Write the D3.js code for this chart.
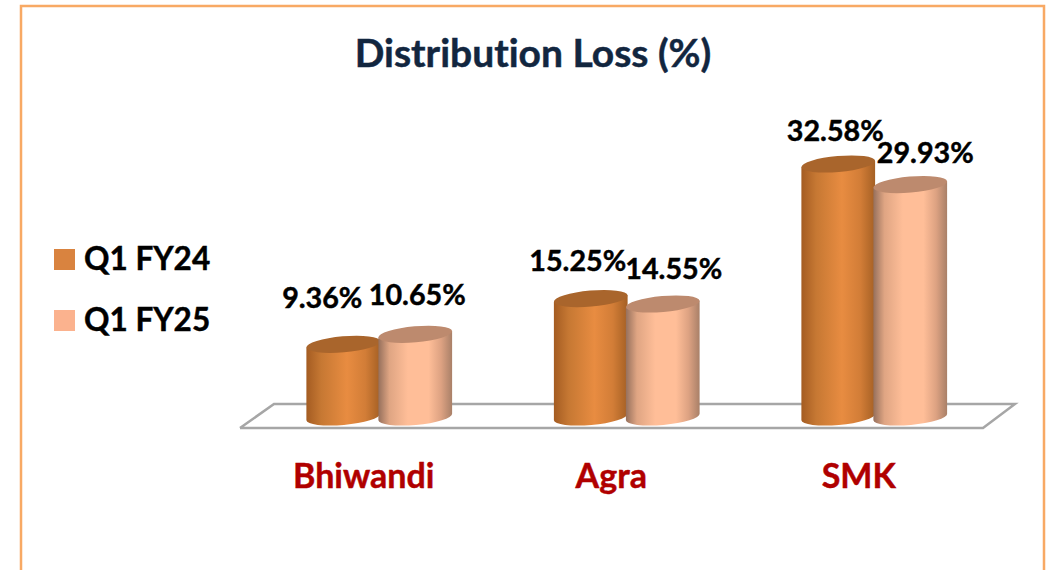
<!DOCTYPE html>
<html><head><meta charset="utf-8">
<script src="https://cdn.jsdelivr.net/npm/d3@7"></script>
<style>html,body{margin:0;padding:0;background:#fff;overflow:hidden}svg{display:block}text{font-family:Lato,"Open Sans",sans-serif;font-weight:700;font-variant-ligatures:none;stroke-width:.45px;paint-order:stroke}</style>
</head><body><div id="c"></div>
<script>
const categories = ["Bhiwandi", "Agra", "SMK"];
const seriesNames = ["Q1 FY24", "Q1 FY25"];
const q1FY24 = [9.36, 15.25, 32.58];
const q1FY25 = [10.65, 14.55, 29.93];
const title = "Distribution Loss (%)";

const W = 1048, H = 570;
const svg = d3.select("#c").append("svg").attr("width", W).attr("height", H);
const defs = svg.append("defs");
function grad(id, stops){
  const g = defs.append("linearGradient").attr("id", id);
  stops.forEach(s => g.append("stop").attr("offset", s[0]).attr("stop-color", s[1]));
}
grad("g0", [[0,"#a45c22"],[0.2,"#c67833"],[0.55,"#e88c41"],[0.8,"#d27d37"],[1,"#a56024"]]);
grad("g1", [[0,"#96705c"],[0.15,"#dfa583"],[0.4,"#ffbe98"],[0.68,"#ffbe98"],[0.85,"#dda282"],[1,"#a98068"]]);
const capColor = ["#a9652c", "#bd8a6e"];
const legendColor = ["#d9833f", "#fbb28e"];

// frame
svg.append("path").attr("d", d3.line()([[21,600],[21,6],[1044,6],[1044,600]]))
  .attr("fill","none").attr("stroke","#f8a964").attr("stroke-width",2.5);

svg.append("text").attr("x",533).attr("y",67).attr("text-anchor","middle")
  .attr("font-size",39).attr("fill","#12263f").attr("stroke","#12263f").text(title);

// scales
const x = d3.scaleBand().domain(categories).range([240, 982.5]);
const y = d3.scaleLinear().domain([0, 32.58]).range([417, 164]);
const barW = 74, capRy = 8, tilt = 5;
const barOffset = [-36, 36];
const centerShift = 15.5;

// floor
svg.append("path").attr("d", d3.line()([[240,428],[274,404],[1015,404],[983,428],[240,428]]))
  .attr("fill","#fff").attr("stroke","#a6a6a6").attr("stroke-width",2.5);

// legend
seriesNames.forEach((n,i)=>{
  const ly = 249 + i*61;
  svg.append("rect").attr("x",54).attr("y",ly).attr("width",21).attr("height",21).attr("fill",legendColor[i]);
  svg.append("text").attr("x",84).attr("y",ly+20.5).attr("font-size",31.5).attr("fill","#000").attr("stroke","#000").text(n);
});

// cylinders
const rad = tilt*Math.PI/180;
function cylinder(g, cx, v, i){
  const rx = barW/2, dx = rx*Math.cos(rad), dy = rx*Math.sin(rad);
  const yt = y(v), yb = y(0);
  const side = `M${cx-dx},${yt+dy} L${cx-dx},${yb+dy} A${rx},${capRy} ${-tilt} 0 0 ${cx+dx},${yb-dy} L${cx+dx},${yt-dy} Z`;
  g.append("path").attr("d", side).attr("fill", `url(#g${i})`);
  g.append("ellipse").attr("cx",cx).attr("cy",yt).attr("rx",rx).attr("ry",capRy)
    .attr("transform",`rotate(${-tilt} ${cx} ${yt})`).attr("fill",capColor[i]);
}
const series = [q1FY24, q1FY25];
categories.forEach((c,k)=>{
  [0,1].forEach(i=>{
    cylinder(svg.append("g"), x(c)+x.bandwidth()/2+centerShift+barOffset[i], series[i][k], i);
  });
});

// value labels (manually nudged to avoid the caps, as in the source)
const labelNudgeX = [[-21,-13,-3],[2,11,15]];
const labelNudgeY = [[-36,-28,-23],[-29,-25,-22]];
series.forEach((vals,i)=>{
  vals.forEach((v,k)=>{
    const c = categories[k];
    svg.append("text")
      .attr("x", x(c)+x.bandwidth()/2+centerShift+barOffset[i]+labelNudgeX[i][k])
      .attr("y", y(v)+labelNudgeY[i][k])
      .attr("text-anchor","middle").attr("font-size",28.7).attr("fill","#000").attr("stroke","#000")
      .text(v.toFixed(2)+"%");
  });
});

// category axis
const axis = svg.append("g").attr("transform","translate(0,488)")
  .call(d3.axisBottom(x).tickSize(0).tickPadding(0));
axis.select(".domain").remove();
axis.selectAll("text").attr("y",0).attr("dy",0)
  .style("font-family",'Lato,"Open Sans",sans-serif').style("font-weight",700)
  .style("font-size","34px").attr("fill","#b00000").attr("stroke","#b00000");
</script></body></html>
